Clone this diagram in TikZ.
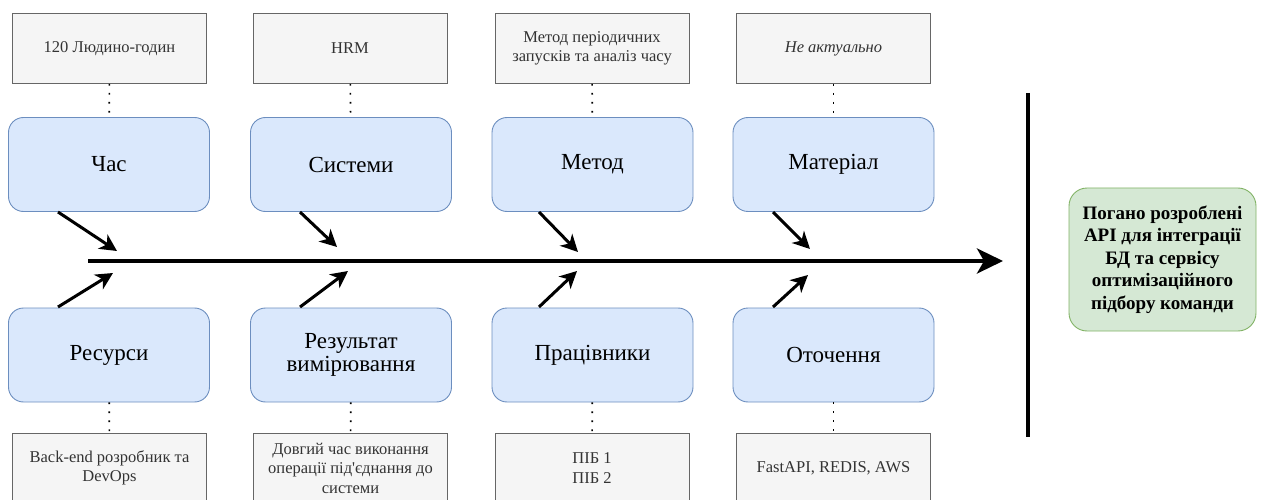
\documentclass[tikz,border=0pt]{standalone}
\usepackage{fontspec}
\setmainfont{Liberation Serif}
\usetikzlibrary{arrows.meta}
\definecolor{greyfill}{HTML}{F5F5F5}
\definecolor{greyline}{HTML}{666666}
\definecolor{greytext}{HTML}{333333}
\definecolor{bluefill}{HTML}{DAE8FC}
\definecolor{blueline}{HTML}{6C8EBF}
\definecolor{greenfill}{HTML}{D5E8D4}
\definecolor{greenline}{HTML}{82B366}
\tikzset{
  notebox/.style={draw=greyline, fill=greyfill, line width=0.9pt, text=greytext,
    minimum width=194pt, minimum height=70pt, align=center, inner sep=2pt,
    font=\fontsize{16.5}{19.5}\selectfont},
  causebox/.style={draw=blueline, fill=bluefill, line width=0.9pt, rounded corners=15pt,
    minimum width=201pt, minimum height=94pt, align=center, inner sep=2pt,
    font=\fontsize{23}{22.5}\selectfont},
  effectbox/.style={draw=greenline, fill=greenfill, line width=0.9pt, rounded corners=18pt,
    minimum width=187pt, minimum height=143pt, align=center, inner sep=2pt,
    font=\bfseries\fontsize{19}{22.5}\selectfont},
  dotlink/.style={line width=1.6pt, dash pattern=on 1.6pt off 7.4pt, line cap=butt},
  bone/.style={line width=3pt, -{Stealth[length=17pt,width=17pt,inset=5pt]}},
  spine/.style={line width=4pt, -{Stealth[length=26pt,width=25pt,inset=7pt]}},
}
\begin{document}
\begin{tikzpicture}[x=1pt,y=-1pt]
  \useasboundingbox (0,0) rectangle (1262,500);
  \clip (0,0) rectangle (1262,500);

  % notes above the upper causes
  \node[notebox] (n1) at (109.5,48.5) {120 Людино-годин};
  \node[notebox] (n2) at (350,48.5) {HRM};
  \node[notebox] (n3) at (592,48.5) {Метод періодичних\\запусків та аналіз часу};
  \node[notebox] (n4) at (833.5,48.5) {\itshape Не актуально};

  % upper causes
  \node[causebox] (c1) at (109,164.5) {Час};
  \node[causebox] (c2) at (351,164.5) {Системи};
  \node[causebox] (c3) at (592.5,164.5) {Метод};
  \node[causebox] (c4) at (833.5,164.5) {Матеріал};

  % lower causes
  \node[causebox] (c5) at (109,355) {Ресурси};
  \node[causebox] (c6) at (351,355) {Результат\\вимірювання};
  \node[causebox] (c7) at (592.5,355) {Працівники};
  \node[causebox] (c8) at (833.5,355) {Оточення};

  % notes below the lower causes
  \node[notebox] (n5) at (109.5,468) {Back-end розробник та\\DevOps};
  \node[notebox] (n6) at (350.5,468) {Довгий час виконання\\операції під\textquotesingle єднання до\\системи};
  \node[notebox] (n7) at (592,468) {ПІБ 1\\ПІБ 2};
  \node[notebox] (n8) at (833.5,468) {FastAPI, REDIS, AWS};

  % effect
  \node[effectbox] (ef) at (1162.5,259.5) {Погано розроблені\\API для інтеграції\\БД та сервісу\\оптимізаційного\\підбору команди};

  % dotted links between notes and causes
  \foreach \i/\j in {n1/c1,n2/c2,n3/c3,n4/c4,c5/n5,c6/n6,c7/n7,c8/n8}
    \draw[dotlink] (\i) -- (\j);

  % spine and head bar
  \coordinate (sp0) at (88,261);
  \coordinate (sp1) at (1003,261);
  \draw[spine] (sp0) -- (sp1);
  \coordinate (bar0) at (1028,93);
  \coordinate (bar1) at (1028,437);
  \draw[line width=4pt] (bar0) -- (bar1);

  % bones: start points on the cause boxes, tips near the spine
  \coordinate (b1s) at (58,212);   \coordinate (b1e) at (117,251);
  \coordinate (b2s) at (300,212);  \coordinate (b2e) at (337,247);
  \coordinate (b3s) at (539,212);  \coordinate (b3e) at (578,252);
  \coordinate (b4s) at (773,212);  \coordinate (b4e) at (810,249);
  \coordinate (b5s) at (58,307);   \coordinate (b5e) at (113,273);
  \coordinate (b6s) at (300,307);  \coordinate (b6e) at (348,271);
  \coordinate (b7s) at (539,307);  \coordinate (b7e) at (577,271);
  \coordinate (b8s) at (773,307);  \coordinate (b8e) at (808,275);
  \foreach \k in {1,...,8}
    \draw[bone] (b\k s) -- (b\k e);
\end{tikzpicture}
\end{document}
